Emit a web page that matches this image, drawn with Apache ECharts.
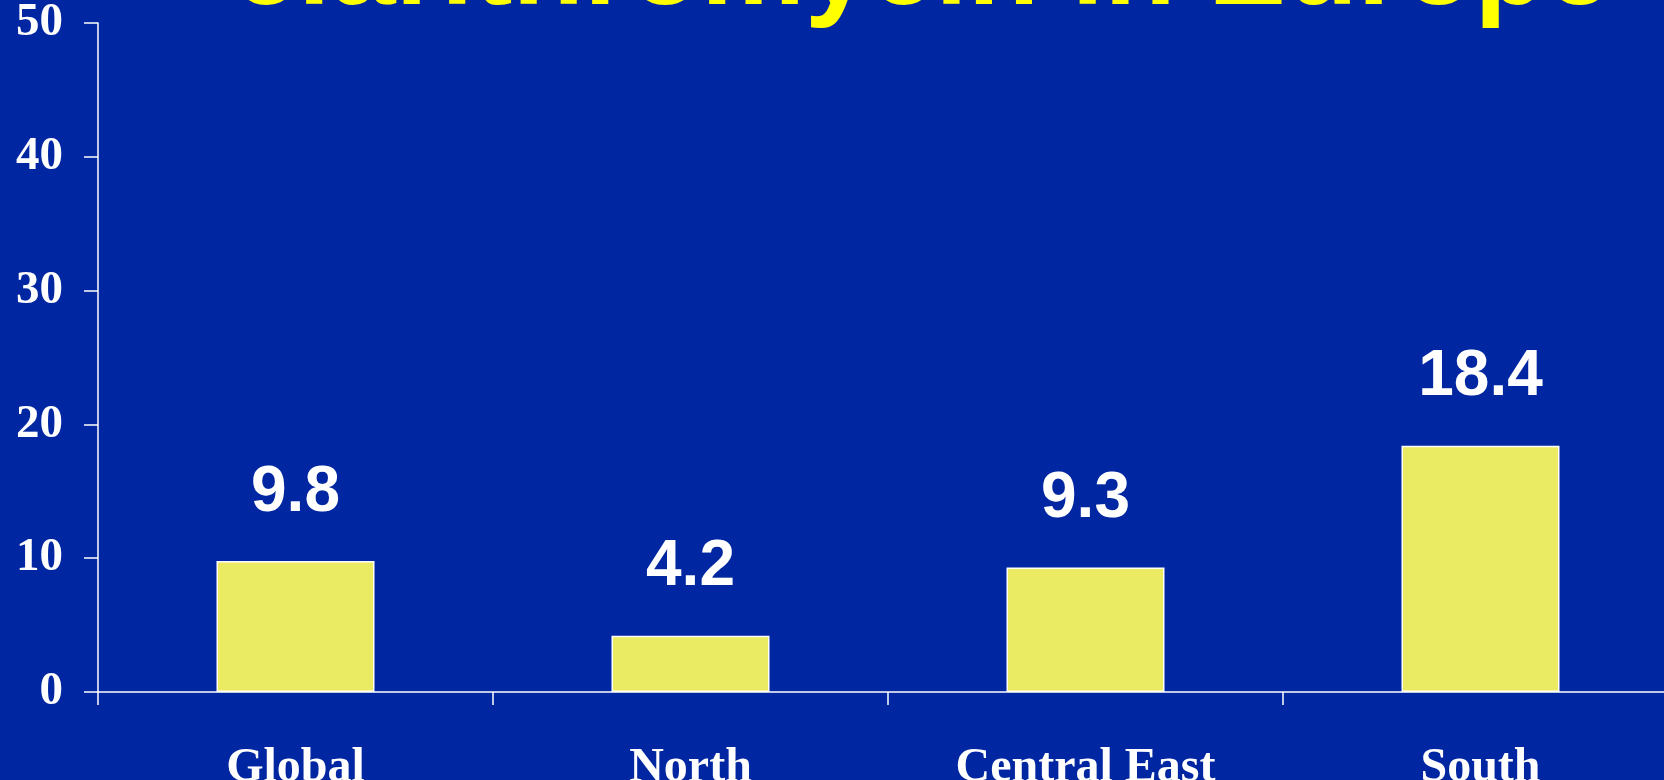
<!DOCTYPE html>
<html>
<head>
<meta charset="utf-8">
<script src="https://cdn.jsdelivr.net/npm/echarts@6/dist/echarts.min.js"></script>
<style>
  html, body { margin: 0; padding: 0; background: #0026A1; }
  #chart { width: 1664px; height: 780px; }
</style>
</head>
<body>
<div id="chart"></div>
<script>
// 数据
var regions = ['Global', 'North', 'Central East', 'South']
var resistance = [9.8, 4.2, 9.3, 18.4]
var titleText = 'clarithromycin in Europe'

var chart = echarts.init(document.getElementById('chart'))
chart.setOption({
  backgroundColor: '#0026A1',
  animation: false,
  // 标题只露出下半截
  graphic: [{
    type: 'text',
    x: 922,
    y: 30,
    style: {
      text: titleText,
      fill: '#FFFF00',
      font: 'bold 117px "Liberation Sans", Arial, sans-serif',
      align: 'center',
      verticalAlign: 'bottom'
    }
  }],
  grid: {
    left: 98,
    top: 23,
    bottom: 88,
    width: 1580,
    outerBoundsMode: 'none'
  },
  xAxis: {
    type: 'category',
    data: regions,
    axisLine: { lineStyle: { color: '#fff', width: 1.5 } },
    axisTick: { show: true, length: 13, lineStyle: { color: '#fff', width: 1.5 } },
    axisLabel: {
      color: '#fff',
      fontFamily: '"Liberation Serif", "Times New Roman", serif',
      fontWeight: 'bold',
      fontSize: 48,
      margin: 53
    }
  },
  yAxis: {
    type: 'value',
    min: 0,
    max: 50,
    interval: 10,
    splitLine: { show: false },
    axisLine: { show: true, lineStyle: { color: '#fff', width: 1.5 } },
    axisTick: { show: true, length: 14, lineStyle: { color: '#fff', width: 1.5 } },
    axisLabel: {
      color: '#fff',
      fontFamily: '"Liberation Serif", "Times New Roman", serif',
      fontWeight: 'bold',
      fontSize: 47,
      margin: 35
    }
  },
  series: [{
    type: 'bar',
    data: resistance,
    barWidth: '40%',
    itemStyle: {
      color: '#EAEB62',
      borderColor: '#fff',
      borderWidth: 1.5
    },
    label: {
      show: true,
      position: 'top',
      distance: 36,
      color: '#fff',
      fontFamily: '"Liberation Sans", Arial, sans-serif',
      fontWeight: 'bold',
      fontSize: 64
    }
  }]
})
</script>
</body>
</html>
